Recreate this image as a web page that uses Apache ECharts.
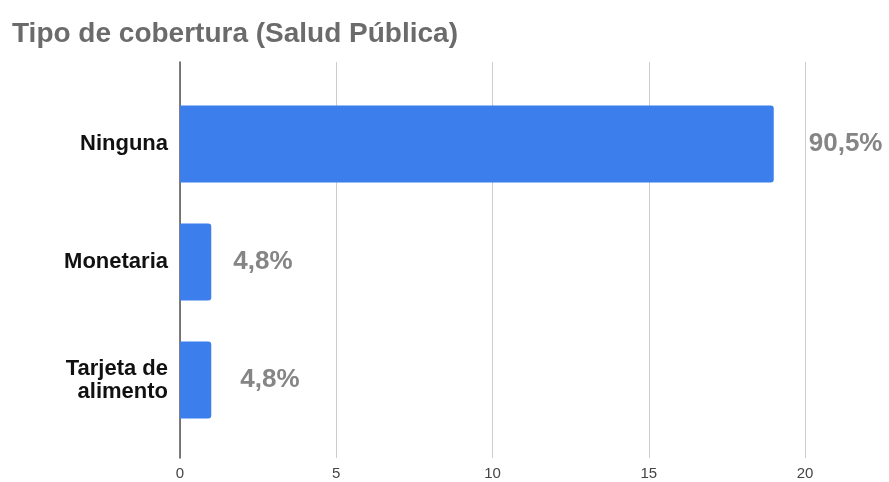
<!DOCTYPE html>
<html><head><meta charset="utf-8">
<script src="https://cdn.jsdelivr.net/npm/echarts@6/dist/echarts.min.js"></script>
<style>html,body{margin:0;padding:0;background:#fff}#c{width:889px;height:482px}</style>
</head><body><div id="c"></div>
<script>
const categories = ['Ninguna', 'Monetaria', 'Tarjeta de\nalimento'];
const values = [19, 1, 1];
const percentLabels = ['90,5%', '4,8%', '4,8%'];
const labelGaps = [35, 22, 29];
const xTicks = [0, 5, 10, 15, 20];

const chart = echarts.init(document.getElementById('c'));
chart.setOption({
  backgroundColor: '#fff',
  animation: false,
  title: {
    text: 'Tipo de cobertura (Salud Pública)',
    left: 7, top: 15,
    textStyle: {fontFamily: 'Liberation Sans, Arial', fontSize: 28, fontWeight: 'bold', color: '#6b6b6b'}
  },
  grid: [
    {left: 180, right: 84, top: 85, bottom: 43},
    {left: 180, right: 84, top: 62, bottom: 24}
  ],
  xAxis: [
    {type: 'value', gridIndex: 0, min: xTicks[0], max: xTicks[xTicks.length-1], interval: 5,
     axisLine: {show: false}, axisTick: {show: false}, axisLabel: {show: false}, splitLine: {show: false}},
    {type: 'value', gridIndex: 1, min: xTicks[0], max: xTicks[xTicks.length-1], interval: 5,
     axisLine: {show: false}, axisTick: {show: false},
     axisLabel: {color: '#444', fontSize: 15, fontFamily: 'Liberation Sans, Arial', margin: 8},
     splitLine: {lineStyle: {color: '#cccccc', width: 1}}}
  ],
  yAxis: [
    {type: 'category', gridIndex: 0, data: categories, inverse: true,
     axisLine: {show: false}, axisTick: {show: false},
     axisLabel: {color: '#111', fontSize: 22, fontWeight: 'bold', fontFamily: 'Liberation Sans, Arial', margin: 12, align: 'right', lineHeight: 23}},
    {type: 'value', gridIndex: 1, min: 0, max: 1,
     axisLine: {show: true, onZero: false, lineStyle: {color: '#555', width: 1.5}},
     axisTick: {show: false}, axisLabel: {show: false}, splitLine: {show: false}}
  ],
  series: [{
    type: 'bar', xAxisIndex: 0, yAxisIndex: 0,
    barWidth: 77,
    data: values.map((v, i) => ({
      value: v,
      label: {distance: labelGaps[i]}
    })),
    itemStyle: {color: '#3c7fec', borderRadius: [0, 3, 3, 0]},
    label: {
      show: true, position: 'right',
      formatter: p => percentLabels[p.dataIndex],
      color: '#858585', fontSize: 26, fontWeight: 'bold', fontFamily: 'Liberation Sans, Arial'
    }
  }]
});
</script></body></html>
